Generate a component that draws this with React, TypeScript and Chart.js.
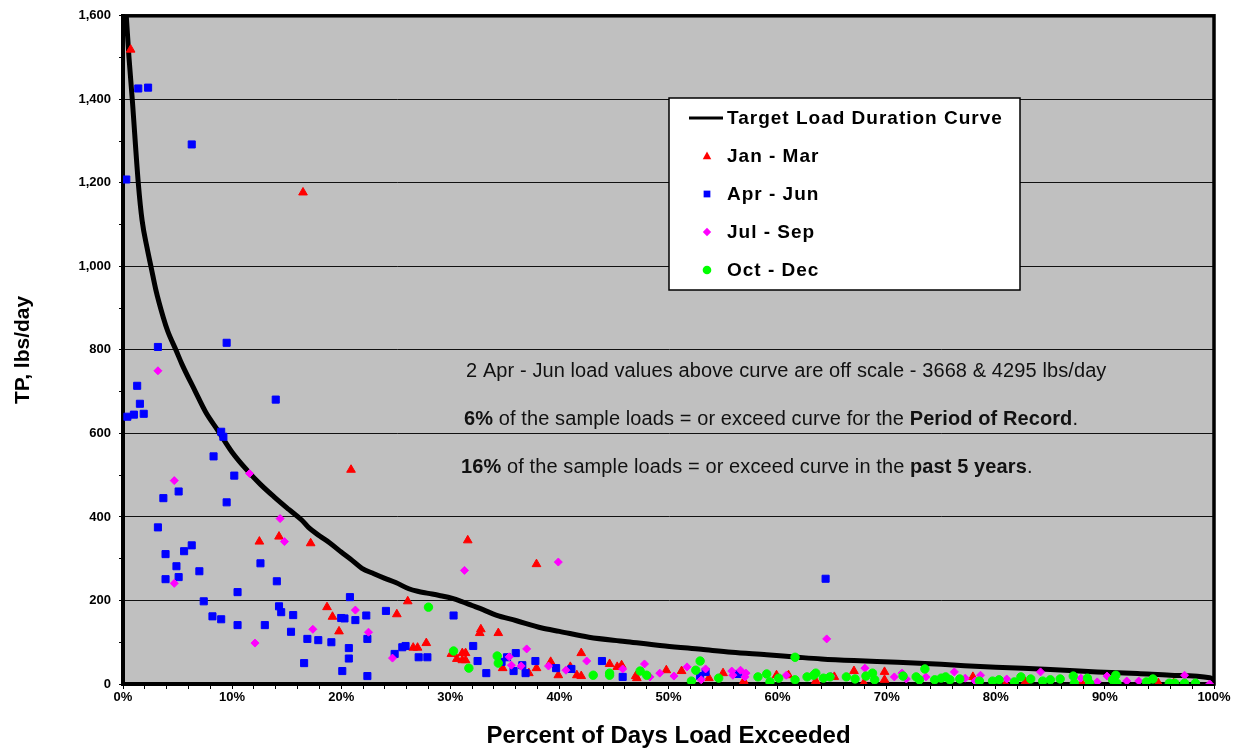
import React, { useEffect, useRef } from "react";
import { Chart, registerables } from "chart.js";

Chart.register(...registerables);

// ---- Data ----
const curveX = [0.3, 0.55, 0.85, 1.4, 1.75, 2.2, 2.6, 3.0, 3.7, 4.1, 4.9, 5.4, 6.6, 7.6, 8.7, 10, 11.4, 12.6, 13.9, 15.2, 16.4, 17, 18, 18.9, 20, 21, 21.9, 23, 24, 25, 26.2, 27, 28, 29, 30.2, 31, 32, 33, 34.2, 36, 38.4, 40, 42.7, 46, 49.7, 53, 55.8, 59, 61.9, 64, 67, 71, 75, 80, 85, 89.3, 93, 96, 99.6, 100];
const curveY = [1600, 1500, 1400, 1200, 1110, 1045, 995, 945, 877, 845, 797, 766, 702, 650, 607, 555, 511, 478, 447, 418, 392, 375, 355, 339, 316, 296, 277, 264, 253, 243, 228, 222, 217, 212, 205, 198, 188, 178, 165, 152, 134, 126, 112, 102, 91, 83, 76, 70, 64, 60, 56, 52, 47, 40, 35, 29, 25, 21, 15, 10];

const janX = [0.7, 16.5, 20.9, 31.6, 37.9, 12.5, 14.3, 17.2, 18.7, 19.2, 19.8, 26.1, 25.1, 26.6, 27.0, 27.8, 30.1, 31.1, 31.4, 30.6, 31.1, 31.4, 32.8, 32.7, 34.4, 34.8, 37.2, 37.9, 39.2, 39.9, 41.0, 41.6, 42.0, 42.0, 44.6, 45.3, 45.7, 47.0, 47.1, 49.8, 51.2, 53.7, 55.0, 56.9, 59.9, 61.0, 63.5, 65.2, 67.0, 67.9, 69.8, 69.8, 77.9, 80.9, 82.7, 87.9, 94.9, 96.3];
const janY = [1519, 1177, 513, 344, 287, 341, 353, 337, 184, 161, 126, 198, 167, 87, 87, 98, 72, 74, 74, 60, 57, 57, 131, 122, 122, 38, 26, 38, 53, 21, 41, 21, 19, 74, 48, 41, 45, 19, 14, 33, 31, 14, 26, 7, 21, 21, 7, 17, 31, 2, 29, 10, 17, 0, 5, 2, 2, 2];

const aprX = [0.3, 1.4, 2.3, 6.3, 3.2, 9.5, 1.3, 1.55, 0.4, 1.0, 1.9, 14.0, 9.0, 9.2, 8.3, 10.2, 3.7, 5.1, 9.5, 3.2, 3.9, 5.6, 6.3, 4.9, 7.0, 3.9, 5.1, 12.6, 14.1, 10.5, 7.4, 8.2, 9.0, 10.5, 13.0, 14.3, 14.5, 15.6, 15.4, 16.9, 17.9, 19.1, 16.6, 20.0, 20.3, 20.1, 20.8, 21.3, 22.3, 22.4, 20.7, 20.7, 22.4, 24.1, 24.9, 25.6, 25.9, 27.1, 27.9, 30.3, 32.1, 32.5, 33.3, 34.7, 35.2, 36.0, 35.8, 36.6, 36.9, 37.8, 39.7, 41.1, 43.9, 45.8, 52.9, 53.4, 56.4, 64.4];
const aprY = [1208, 1426, 1428, 1292, 807, 817, 714, 671, 640, 645, 647, 681, 604, 592, 545, 499, 445, 461, 435, 375, 311, 318, 332, 282, 270, 251, 256, 289, 246, 220, 198, 162, 155, 141, 141, 186, 172, 165, 125, 108, 105, 100, 50, 158, 157, 31, 208, 153, 164, 108, 86, 61, 19, 175, 72, 88, 91, 64, 64, 164, 91, 55, 26, 53, 64, 74, 31, 45, 26, 55, 38, 36, 55, 17, 19, 29, 24, 252];

const julX = [3.2, 11.6, 4.7, 14.4, 14.8, 4.7, 12.1, 17.4, 21.3, 22.5, 24.7, 31.3, 39.9, 35.4, 35.6, 37.0, 36.5, 39.0, 40.6, 42.5, 45.8, 47.8, 48.3, 49.2, 50.5, 51.7, 53.4, 53.0, 55.8, 56.6, 57.1, 57.0, 55.9, 60.8, 64.5, 64.9, 68.0, 70.7, 71.4, 71.8, 73.6, 76.2, 77.2, 78.1, 78.6, 81.0, 84.1, 87.8, 89.3, 90.2, 92.0, 93.1, 97.3, 99.6];
const julY = [750, 504, 487, 396, 341, 241, 98, 131, 177, 124, 62, 272, 292, 65, 45, 84, 43, 43, 33, 55, 36, 48, 17, 26, 19, 41, 36, 10, 31, 33, 26, 17, 21, 21, 108, 19, 38, 17, 26, 12, 17, 29, 14, 7, 21, 12, 29, 14, 5, 19, 7, 7, 21, 0];

const octX = [28.0, 30.3, 31.7, 34.3, 34.4, 43.1, 44.6, 44.6, 47.4, 48.0, 52.1, 52.5, 52.9, 54.6, 58.2, 59.0, 59.3, 60.1, 61.6, 61.6, 62.7, 63.3, 63.5, 64.2, 64.8, 66.3, 67.1, 68.1, 68.7, 68.9, 71.5, 72.7, 73.0, 73.5, 74.4, 75.0, 75.4, 75.8, 76.7, 78.5, 79.7, 80.3, 81.7, 82.3, 83.2, 84.3, 85.0, 85.9, 87.1, 87.2, 88.4, 88.6, 90.7, 91.0, 91.1, 93.8, 94.4, 95.9, 96.4, 97.3, 98.3];
const octY = [184, 79, 38, 67, 50, 21, 26, 21, 31, 21, 7, 33, 55, 14, 17, 24, 5, 14, 64, 10, 17, 21, 26, 14, 17, 17, 12, 19, 26, 10, 19, 17, 10, 36, 10, 14, 17, 10, 12, 7, 7, 10, 5, 17, 12, 7, 10, 12, 19, 2, 14, 2, 10, 21, 2, 5, 12, 2, 2, 2, 2];

const seriesNames = ["Target Load Duration Curve", "Jan - Mar", "Apr - Jun", "Jul - Sep", "Oct - Dec"];
const noteLine1 = "2 Apr - Jun load values above curve are off scale - 3668 & 4295 lbs/day";
const noteLine2: [string, boolean][] = [["6%", true], [" of the sample loads = or exceed curve for the ", false], ["Period of Record", true], [".", false]];
const noteLine3: [string, boolean][] = [["16%", true], [" of the sample loads = or exceed curve in the ", false], ["past 5 years", true], [".", false]];

const toPts = (xs: number[], ys: number[]) => xs.map((x, i) => ({ x, y: ys[i] }));

const FONT = '"Liberation Sans", Arial, Helvetica, sans-serif';
const RED = "#FF0000";
const BLUE = "#0000FF";
const MAG = "#FF00FF";
const GRN = "#00FF00";

function drawMarker(ctx: CanvasRenderingContext2D, kind: string, x: number, y: number, s: number, color: string) {
  ctx.save();
  ctx.fillStyle = color;
  ctx.beginPath();
  if (kind === "tri") {
    ctx.moveTo(x, y - s);
    ctx.lineTo(x + s * 0.95, y + s * 0.7);
    ctx.lineTo(x - s * 0.95, y + s * 0.7);
    ctx.closePath();
  } else if (kind === "sq") {
    ctx.rect(x - s * 0.75, y - s * 0.75, s * 1.5, s * 1.5);
  } else if (kind === "dia") {
    ctx.moveTo(x, y - s);
    ctx.lineTo(x + s, y);
    ctx.lineTo(x, y + s);
    ctx.lineTo(x - s, y);
    ctx.closePath();
  } else {
    ctx.arc(x, y, s, 0, Math.PI * 2);
  }
  ctx.fill();
  ctx.restore();
}

const decorPlugin = {
  id: "decor",
  beforeDraw(chart: any) {
    const { ctx, chartArea } = chart;
    const { left, top, right, bottom } = chartArea;
    ctx.save();
    ctx.fillStyle = "#C0C0C0";
    ctx.fillRect(left, top, right - left, bottom - top);
    ctx.restore();
  },
  beforeDatasetsDraw(chart: any) {
    const { ctx, chartArea } = chart;
    const { left, top, right, bottom } = chartArea;
    ctx.save();
    ctx.strokeStyle = "#000";
    ctx.lineWidth = 3.5;
    ctx.strokeRect(left, top, right - left, bottom - top);
    ctx.restore();
  },
  afterDraw(chart: any) {
    const { ctx } = chart;
    ctx.save();
    // Legend box
    const lx = 669, ly = 98, lw = 351, lh = 192;
    ctx.fillStyle = "#FFFFFF";
    ctx.fillRect(lx, ly, lw, lh);
    ctx.strokeStyle = "#000";
    ctx.lineWidth = 1.5;
    ctx.strokeRect(lx, ly, lw, lh);

    const rows = [118, 156, 194, 232, 270];
    ctx.strokeStyle = "#000";
    ctx.lineWidth = 3;
    ctx.beginPath();
    ctx.moveTo(689, rows[0]);
    ctx.lineTo(723, rows[0]);
    ctx.stroke();
    drawMarker(ctx, "tri", 707, rows[1], 4.5, RED);
    drawMarker(ctx, "sq", 707, rows[2], 4.5, BLUE);
    drawMarker(ctx, "dia", 707, rows[3], 4.2, MAG);
    drawMarker(ctx, "circ", 707, rows[4], 4.3, GRN);

    ctx.fillStyle = "#000";
    ctx.textBaseline = "middle";
    ctx.textAlign = "left";
    ctx.font = `bold 19px ${FONT}`;
    try { (ctx as any).letterSpacing = "1px"; } catch (e) {}
    seriesNames.forEach((n, i) => ctx.fillText(n, 727, rows[i] + 1));
    try { (ctx as any).letterSpacing = "0px"; } catch (e) {}

    // Notes
    ctx.fillStyle = "#111";
    ctx.font = `20px ${FONT}`;
    try { (ctx as any).letterSpacing = "0.1px"; } catch (e) {}
    ctx.fillText(noteLine1, 466, 371);
    const rich = (segs: [string, boolean][], x: number, y: number) => {
      let cx = x;
      segs.forEach(([t, b]) => {
        ctx.font = `${b ? "bold " : ""}20px ${FONT}`;
        ctx.fillText(t, cx, y);
        cx += ctx.measureText(t).width;
      });
    };
    rich(noteLine2, 464, 419);
    rich(noteLine3, 461, 467);
    try { (ctx as any).letterSpacing = "0px"; } catch (e) {}
    ctx.restore();
  },
};

export default function App() {
  const ref = useRef<HTMLCanvasElement | null>(null);
  useEffect(() => {
    if (!ref.current) return;
    const chart = new Chart(ref.current, {
      type: "scatter",
      data: {
        datasets: [
          {
            label: seriesNames[0],
            data: toPts(curveX, curveY),
            showLine: true,
            borderColor: "#000",
            backgroundColor: "#000",
            borderWidth: 5,
            pointRadius: 0,
            cubicInterpolationMode: "monotone",
            order: 5,
          },
          {
            label: seriesNames[1],
            data: toPts(janX, janY),
            pointStyle: "triangle",
            pointRadius: 5,
            backgroundColor: RED,
            borderColor: RED,
            borderWidth: 1,
            order: 4,
          },
          {
            label: seriesNames[2],
            data: toPts(aprX, aprY),
            pointStyle: "rect",
            pointRadius: 5,
            backgroundColor: BLUE,
            borderColor: BLUE,
            borderWidth: 1,
            order: 3,
          },
          {
            label: seriesNames[3],
            data: toPts(julX, julY),
            pointStyle: "rectRot",
            pointRadius: 4,
            backgroundColor: MAG,
            borderColor: MAG,
            borderWidth: 1,
            order: 2,
          },
          {
            label: seriesNames[4],
            data: toPts(octX, octY),
            pointStyle: "circle",
            pointRadius: 4.2,
            backgroundColor: GRN,
            borderColor: GRN,
            borderWidth: 1,
            order: 1,
          },
        ],
      },
      options: {
        animation: false,
        responsive: true,
        maintainAspectRatio: false,
        events: [],
        layout: { padding: { left: 0, top: 14, right: 28, bottom: 0 } },
        plugins: {
          legend: { display: false },
          tooltip: { enabled: false },
        },
        scales: {
          x: {
            type: "linear",
            min: 0,
            max: 100,
            afterFit: (s: any) => { s.height = 67; },
            ticks: {
              stepSize: 2,
              autoSkip: false,
              maxRotation: 0,
              padding: 1,
              color: "#000",
              font: { family: FONT, size: 13, weight: "bold" },
              callback: (v: any) => (Math.round(v) % 10 === 0 ? `${v}%` : ""),
            },
            grid: {
              drawOnChartArea: false,
              tickLength: 5,
              tickColor: "#000",
              lineWidth: 1,
            },
            border: { display: true, color: "#000", width: 4 },
            title: {
              display: true,
              text: "Percent of Days Load Exceeded",
              color: "#000",
              font: { family: FONT, size: 24, weight: "bold" },
              padding: { top: 0, bottom: 0 },
            },
          },
          y: {
            type: "linear",
            min: 0,
            max: 1600,
            afterFit: (s: any) => { s.width = 123; },
            ticks: {
              stepSize: 100,
              autoSkip: false,
              padding: 8,
              color: "#000",
              font: { family: FONT, size: 13, weight: "bold" },
              callback: (v: any) => (Math.round(v) % 200 === 0 ? Number(v).toLocaleString("en-US") : ""),
            },
            grid: {
              tickLength: 4,
              tickColor: "#000",
              lineWidth: 1,
              color: (c: any) => (c.tick && Math.round(c.tick.value) % 200 === 0 ? "#111" : "rgba(0,0,0,0)"),
            },
            border: { display: true, color: "#000", width: 4 },
            title: {
              display: true,
              text: "TP, lbs/day",
              color: "#000",
              font: { family: FONT, size: 21, weight: "bold" },
              padding: { top: 11, bottom: 0 },
            },
          },
        },
      },
      plugins: [decorPlugin],
    } as any);
    return () => chart.destroy();
  }, []);
  return (
    <div style={{ position: "fixed", left: 0, top: 0, width: 1242, height: 751, background: "#fff" }}>
      <canvas ref={ref} />
    </div>
  );
}
